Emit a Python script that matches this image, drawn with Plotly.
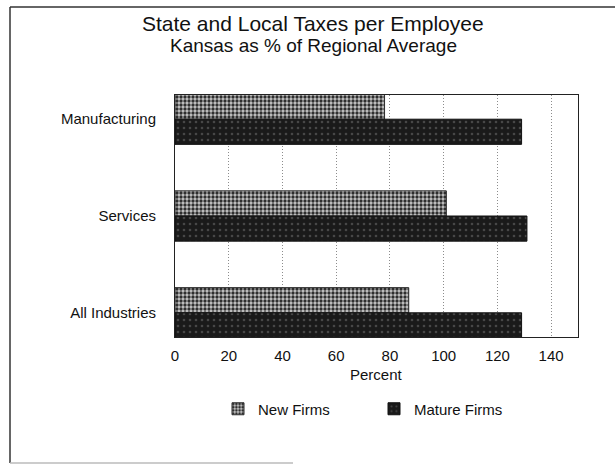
import plotly.graph_objects as go

categories = ["Manufacturing", "Services", "All Industries"]
new_firms = [78, 101, 87]
mature_firms = [129, 131, 129]
x_ticks = [0, 20, 40, 60, 80, 100, 120, 140]

W, H = 615, 464
L, R, T, B = 175, 37, 95, 127
pw, ph = W - L - R, H - T - B


def px_x(x):
    return (x - L) / pw


def px_y(y):
    return (H - B - y) / ph


FONT = "Liberation Sans, Arial, Helvetica, sans-serif"
INK = "#111111"

fig = go.Figure()
fig.add_trace(go.Bar(
    y=categories, x=new_firms, orientation="h", name="New Firms",
    marker=dict(
        color="#c4c4c4",
        line=dict(color="#2a2a2a", width=1),
        pattern=dict(shape=".", fgcolor="#2e2e2e", bgcolor="#c8c8c8",
                     size=4, solidity=0.55, fillmode="replace"),
    ),
))
fig.add_trace(go.Bar(
    y=categories, x=mature_firms, orientation="h", name="Mature Firms",
    marker=dict(
        color="#1a1a1a",
        line=dict(color="#111111", width=1),
        pattern=dict(shape=".", fgcolor="#474747", bgcolor="#1a1a1a",
                     size=6, solidity=0.15, fillmode="replace"),
    ),
))

fig.update_layout(
    width=W, height=H,
    margin=dict(l=L, r=R, t=T, b=B, pad=0),
    paper_bgcolor="white", plot_bgcolor="white",
    font=dict(family=FONT, size=15, color=INK),
    barmode="group", bargap=0.48, bargroupgap=0.0,
    showlegend=True,
    legend=dict(
        orientation="h", x=px_x(218), xanchor="left",
        y=px_y(409), yanchor="middle",
        font=dict(size=15, family=FONT, color=INK),
        entrywidth=111, entrywidthmode="pixels",
        bgcolor="rgba(0,0,0,0)",
    ),
)

fig.update_xaxes(
    range=[0, 150], tickvals=x_ticks, ticktext=[str(v) for v in x_ticks],
    showgrid=True, gridcolor="#8c8c8c", griddash="1px,2px", gridwidth=1,
    zeroline=False,
    showline=True, linecolor="#222222", linewidth=1, mirror=True,
    ticks="outside", ticklen=5, tickcolor="rgba(0,0,0,0)",
    tickfont=dict(size=15, family=FONT, color=INK),
)
fig.update_yaxes(
    type="category", categoryorder="array", categoryarray=categories,
    range=[2.25, -0.25],
    showgrid=False, zeroline=False,
    showline=True, linecolor="#222222", linewidth=1, mirror=True,
    ticks="outside", ticklen=15, tickcolor="rgba(0,0,0,0)",
    tickfont=dict(size=15, family=FONT, color=INK),
)

# Titles
fig.add_annotation(text="State and Local Taxes per Employee", xref="paper", yref="paper",
                   x=px_x(313), y=px_y(23), xanchor="center", yanchor="middle",
                   showarrow=False, font=dict(size=21, family=FONT, color=INK))
fig.add_annotation(text="Kansas as % of Regional Average", xref="paper", yref="paper",
                   x=px_x(313), y=px_y(46), xanchor="center", yanchor="middle",
                   showarrow=False, font=dict(size=19, family=FONT, color=INK))
fig.add_annotation(text="Percent", xref="paper", yref="paper",
                   x=0.5, y=px_y(374), xanchor="center", yanchor="middle",
                   showarrow=False, font=dict(size=15, family=FONT, color=INK))

# Outer frame (left, top, faint bottom)
fig.add_shape(type="line", xref="paper", yref="paper",
              x0=px_x(10), x1=px_x(10), y0=px_y(7), y1=px_y(463),
              line=dict(color="#333333", width=1.5))
fig.add_shape(type="line", xref="paper", yref="paper",
              x0=px_x(10), x1=px_x(615), y0=px_y(7), y1=px_y(7),
              line=dict(color="#333333", width=1.5))
fig.add_shape(type="line", xref="paper", yref="paper",
              x0=px_x(10), x1=px_x(293), y0=px_y(463), y1=px_y(463),
              line=dict(color="#bbbbbb", width=1.5))

fig.write_html("out.html")
